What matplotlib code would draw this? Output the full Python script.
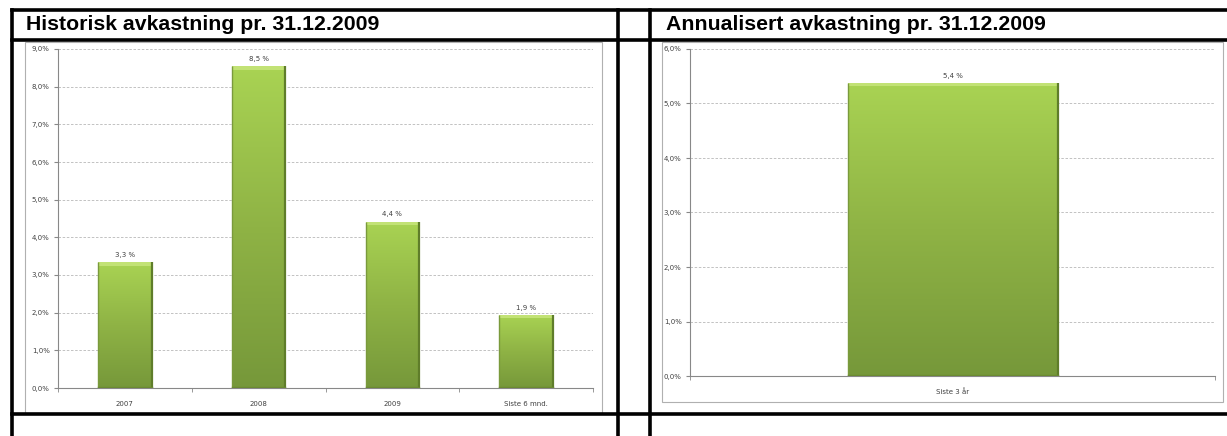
import numpy as np
import matplotlib.pyplot as plt
from matplotlib.patches import Rectangle
from matplotlib.lines import Line2D
from matplotlib.colors import LinearSegmentedColormap
from matplotlib.ticker import FuncFormatter

W, H = 1227, 436

# data
hist_cats = ['2007', '2008', '2009', 'Siste 6 mnd.']
hist_vals = [3.34, 8.54, 4.42, 1.94]
ann_cats = ['Siste 3 år']
ann_vals = [5.38]

title_left = 'Historisk avkastning pr. 31.12.2009'
title_right = 'Annualisert avkastning pr. 31.12.2009'

green = LinearSegmentedColormap.from_list('g', ['#76983a', '#8fb345', '#a9d353'])


def px_rect(x0, y0, x1, y1):
    # pixel box (top-left origin) -> figure fraction
    return [x0 / W, 1 - y1 / H, (x1 - x0) / W, (y1 - y0) / H]


def pct(v, pos):
    return f'{v:.1f}%'.replace('.', ',')


def draw_chart(ax, cats, vals, ymax):
    x = np.arange(len(cats))
    bars = ax.bar(x, vals, width=0.4, color='none', edgecolor='none', zorder=3)
    ax.set_xlim(-0.5, len(cats) - 0.5)
    ax.set_ylim(0, ymax)
    grad = np.linspace(0, 1, 256).reshape(-1, 1)
    for b, v in zip(bars, vals):
        x0, w, h = b.get_x(), b.get_width(), b.get_height()
        im = ax.imshow(grad, cmap=green, origin='lower', aspect='auto',
                       extent=(x0, x0 + w, 0, h), zorder=3)
        im.set_clip_path(b)
        # light top rim, darker sides
        ax.add_patch(Rectangle((x0, h - ymax * 0.01), w, ymax * 0.01, fc='#c2e275', ec='none', zorder=4))
        ax.plot([x0 + w, x0 + w], [0, h], color='#5f7d2a', lw=1.6, zorder=5, solid_capstyle='butt')
        ax.plot([x0, x0], [0, h], color='#7a9a3c', lw=1.0, zorder=5, solid_capstyle='butt')
        ax.plot([x0, x0 + w], [0.02, 0.02], color='#6b8a32', lw=1.0, zorder=5)
        ax.text(b.get_x() + w / 2, h + ymax * 0.012, f'{v:.1f} %'.replace('.', ','),
                ha='center', va='bottom', fontsize=5, color='#404040', zorder=5)
    ax.set_yticks(np.arange(0, ymax + 0.01, 1.0))
    ax.yaxis.set_major_formatter(FuncFormatter(pct))
    ax.grid(axis='y', color='#b8b8b8', ls=(0, (3, 2)), lw=0.6, zorder=0)
    ax.set_xticks(x)
    ax.set_xticklabels(cats)
    ax.set_xticks(np.arange(-0.5, len(cats)), minor=True)
    ax.tick_params(axis='x', which='major', length=0, pad=9, labelsize=5, labelcolor='#404040')
    ax.tick_params(axis='x', which='minor', length=3, color='#888888', direction='out')
    ax.tick_params(axis='y', length=3, color='#888888', labelsize=5, labelcolor='#404040', pad=3)
    for s in ['top', 'right']:
        ax.spines[s].set_visible(False)
    for s in ['left', 'bottom']:
        ax.spines[s].set_color('#888888')
        ax.spines[s].set_linewidth(0.8)


fig = plt.figure(figsize=(W / 100, H / 100), dpi=100)
fig.patch.set_facecolor('white')

# chart area frames
for box in [(25, 42, 602, 413), (662, 42, 1223, 402)]:
    r = Rectangle((box[0] / W, 1 - box[3] / H), (box[2] - box[0]) / W, (box[3] - box[1]) / H,
                  transform=fig.transFigure, fill=False, ec='#b0b0b0', lw=0.8)
    fig.add_artist(r)

ax1 = fig.add_axes(px_rect(58, 49, 593, 388))
draw_chart(ax1, hist_cats, hist_vals, 9.0)

ax2 = fig.add_axes(px_rect(690, 49, 1215, 376))
draw_chart(ax2, ann_cats, ann_vals, 6.0)

# table lines
lw = 2.6
for y in [10, 40, 414]:
    fig.add_artist(Line2D([12 / W, 1], [1 - y / H] * 2, color='black', lw=lw, transform=fig.transFigure))
for xv in [12, 618, 650]:
    fig.add_artist(Line2D([xv / W] * 2, [1 - 10 / H, 0], color='black', lw=lw, transform=fig.transFigure))

fig.text(26 / W, 1 - 25 / H, title_left, fontsize=15.3, fontweight='bold',
         family='Liberation Sans', va='center', ha='left')
fig.text(666 / W, 1 - 25 / H, title_right, fontsize=15.3, fontweight='bold',
         family='Liberation Sans', va='center', ha='left')

fig.savefig('out.png', dpi=100)
